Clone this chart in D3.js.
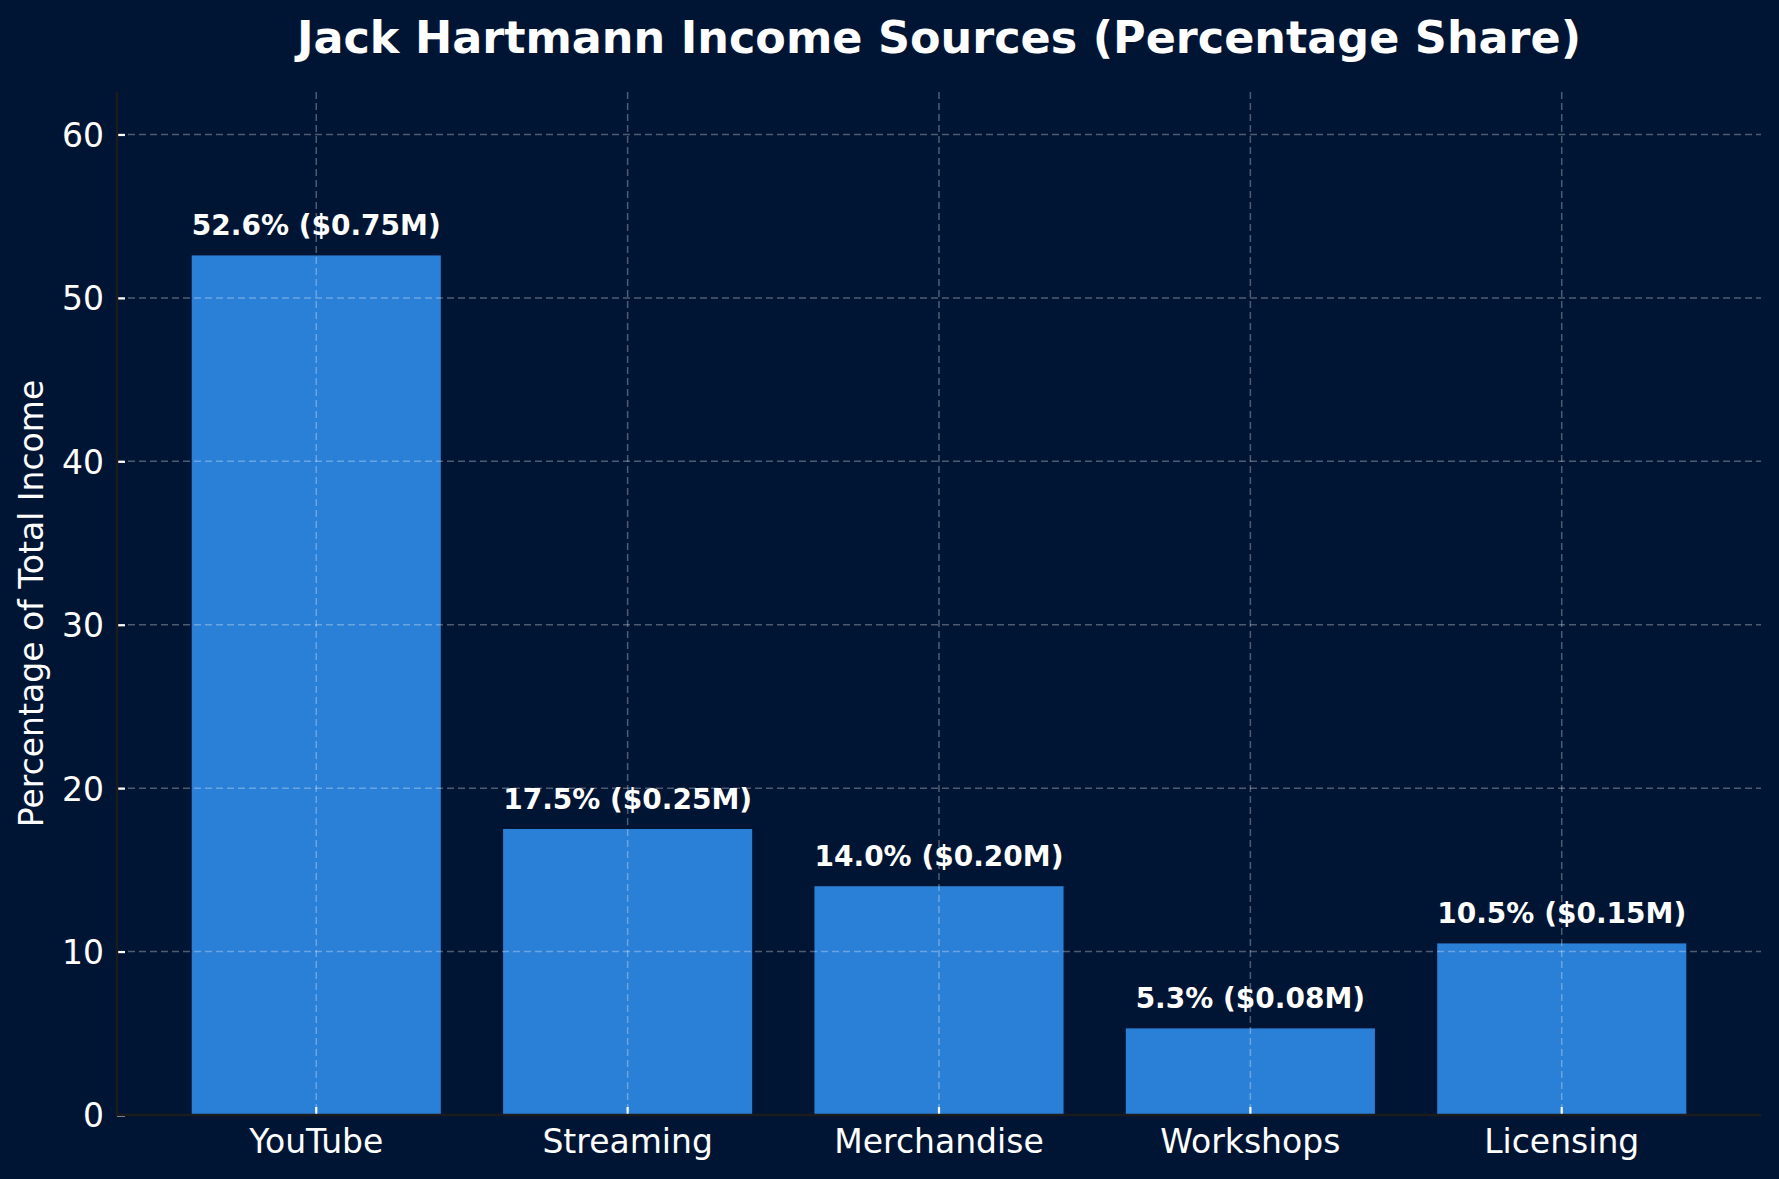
<!DOCTYPE html>
<html>
<head>
<meta charset="utf-8">
<script src="https://cdn.jsdelivr.net/npm/d3@7"></script>
<style>
  html, body { margin: 0; padding: 0; background: #001533; }
  svg { display: block; }
  text { font-family: "DejaVu Sans", sans-serif; fill: #ffffff; }
</style>
</head>
<body>
<svg id="chart" width="1779" height="1179"></svg>
<script>
const categories = ["YouTube", "Streaming", "Merchandise", "Workshops", "Licensing"];
const percentages = [52.6, 17.5, 14.0, 5.3, 10.5];
const amountsM = [0.75, 0.25, 0.20, 0.08, 0.15];
const yTicks = [0, 10, 20, 30, 40, 50, 60];
const yMax = 62.6;
const titleText = "Jack Hartmann Income Sources (Percentage Share)";
const yLabelText = "Percentage of Total Income";

const W = 1779, H = 1179;
const plot = { left: 117, right: 1761, top: 92, bottom: 1115 };

const svg = d3.select("#chart");
svg.append("rect").attr("width", W).attr("height", H).attr("fill", "#001533");

const x = d3.scaleBand()
  .domain(categories)
  .range([plot.left, plot.right])
  .paddingInner(0.2)
  .paddingOuter(0.24);

const y = d3.scaleLinear().domain([0, yMax]).range([plot.bottom, plot.top]);

const data = categories.map((c, i) => ({ cat: c, pct: percentages[i], amt: amountsM[i] }));

// bars
svg.append("g").selectAll("rect").data(data).join("rect")
  .attr("x", d => x(d.cat))
  .attr("y", d => y(d.pct))
  .attr("width", x.bandwidth())
  .attr("height", d => y(0) - y(d.pct))
  .attr("fill", "#2a7fd6");

// grid
const grid = svg.append("g")
  .attr("stroke", "rgba(255,255,255,0.3)")
  .attr("stroke-width", 1.5)
  .attr("stroke-dasharray", "7,4");
grid.selectAll("line.h").data(yTicks).join("line").attr("class", "h")
  .attr("x1", plot.left).attr("x2", plot.right)
  .attr("y1", d => y(d)).attr("y2", d => y(d));
grid.selectAll("line.v").data(categories).join("line").attr("class", "v")
  .attr("x1", d => x(d) + x.bandwidth() / 2).attr("x2", d => x(d) + x.bandwidth() / 2)
  .attr("y1", plot.top).attr("y2", plot.bottom);

// y axis (ticks inside)
const yAxis = d3.axisLeft(y).tickValues(yTicks).tickSize(-8).tickPadding(13).tickFormat(d3.format("d"));
const gy = svg.append("g").attr("transform", `translate(${plot.left},0)`).call(yAxis);
gy.select(".domain").remove();
gy.selectAll(".tick line").attr("stroke", "#ffffff").attr("stroke-width", 2.2);
gy.selectAll(".tick text").attr("font-size", 33).attr("fill", "#ffffff")
  .attr("font-family", "DejaVu Sans, sans-serif").attr("dy", "0.36em");

// x axis (ticks inside)
const xAxis = d3.axisBottom(x).tickSize(-8).tickPadding(12);
const gx = svg.append("g").attr("transform", `translate(0,${plot.bottom})`).call(xAxis);
gx.select(".domain").remove();
gx.selectAll(".tick line").attr("stroke", "#ffffff").attr("stroke-width", 2.2);
gx.selectAll(".tick text").attr("font-size", 33).attr("fill", "#ffffff")
  .attr("font-family", "DejaVu Sans, sans-serif").attr("dy", "0.8em");

// spines
svg.append("line").attr("x1", plot.left).attr("x2", plot.left)
  .attr("y1", plot.top).attr("y2", plot.bottom + 1)
  .attr("stroke", "#1c1c1c").attr("stroke-width", 2.5);
svg.append("line").attr("x1", plot.left - 1).attr("x2", plot.right)
  .attr("y1", plot.bottom).attr("y2", plot.bottom)
  .attr("stroke", "#1c1c1c").attr("stroke-width", 2.5);

// bar value labels
svg.append("g").selectAll("text").data(data).join("text")
  .attr("x", d => x(d.cat) + x.bandwidth() / 2)
  .attr("y", d => y(d.pct) - 20)
  .attr("text-anchor", "middle")
  .attr("font-size", 28)
  .attr("font-weight", "bold")
  .text(d => `${d.pct.toFixed(1)}% ($${d.amt.toFixed(2)}M)`);

// title
svg.append("text")
  .attr("x", (plot.left + plot.right) / 2)
  .attr("y", 53)
  .attr("text-anchor", "middle")
  .attr("font-size", 44.5)
  .attr("font-weight", "bold")
  .text(titleText);

// y label
svg.append("text")
  .attr("transform", `translate(43,${(plot.top + plot.bottom) / 2}) rotate(-90)`)
  .attr("text-anchor", "middle")
  .attr("font-size", 33)
  .text(yLabelText);
</script>
</body>
</html>
